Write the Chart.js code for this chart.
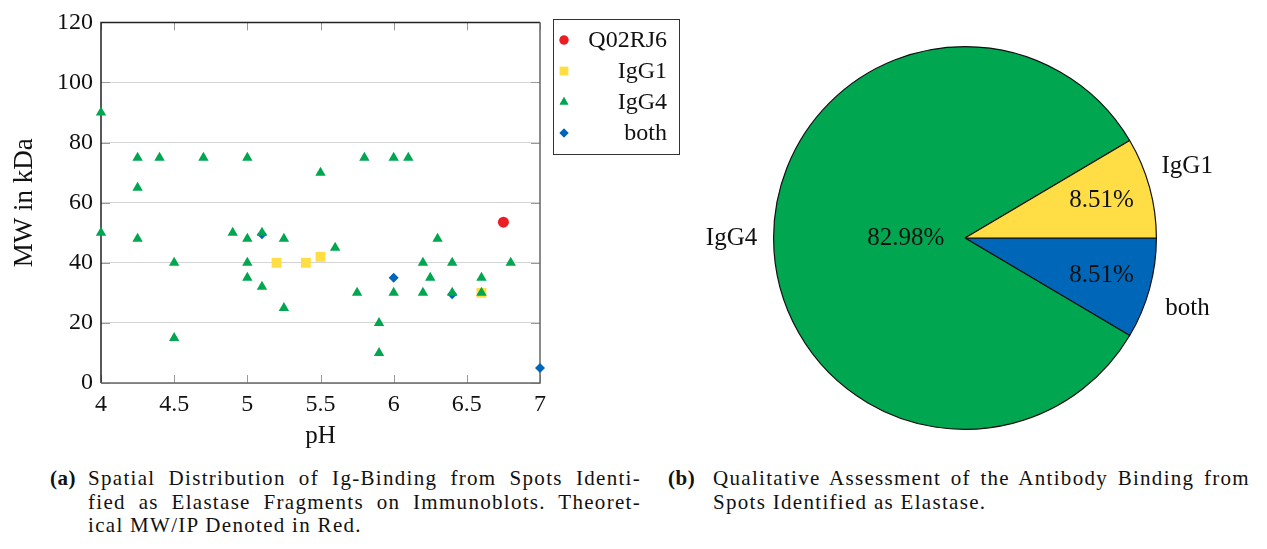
<!DOCTYPE html>
<html>
<head>
<meta charset="utf-8">
<script src="https://cdn.jsdelivr.net/npm/chart.js@4/dist/chart.umd.min.js"></script>
<style>
  body { margin: 0; background: #fff; width: 1267px; height: 549px; position: relative; overflow: hidden; font-family: "Liberation Serif", serif; color: #111; }
  #scatterBox { position: absolute; left: 0; top: 0; width: 690px; height: 460px; }
  #pieBox { position: absolute; left: 700px; top: 0; width: 530px; height: 460px; }
  .cap { position: absolute; font-size: 21px; line-height: 23.5px; letter-spacing: 1.3px; }
  .cap b { position: absolute; left: 0; top: 0; letter-spacing: 0.5px; }
  .ln { position: absolute; white-space: nowrap; }
  .just { text-align: justify; text-align-last: justify; white-space: normal; }
</style>
</head>
<body>
<div id="scatterBox"><canvas id="scatterCanvas" width="690" height="460"></canvas></div>
<div id="pieBox"><canvas id="pieCanvas" width="530" height="460"></canvas></div>

<div class="cap" style="left:50px; top:467px;">
  <b>(a)</b>
  <div class="ln just" style="left:38px; top:0; width:553px;">Spatial Distribution of Ig-Binding from Spots Identi-</div>
  <div class="ln just" style="left:38px; top:23.5px; width:553px;">fied as Elastase Fragments on Immunoblots. Theoret-</div>
  <div class="ln" style="left:38px; top:47px;">ical MW/IP Denoted in Red.</div>
</div>
<div class="cap" style="left:668px; top:467px;">
  <b>(b)</b>
  <div class="ln just" style="left:45px; top:0; width:537px;">Qualitative Assessment of the Antibody Binding from</div>
  <div class="ln" style="left:45px; top:23.5px;">Spots Identified as Elastase.</div>
</div>

<script>
// scatter data (pH, MW in kDa)
const q02PH = [6.75];
const q02MW = [53.5];
const igg1PH = [5.2, 5.4, 5.5, 6.6];
const igg1MW = [40, 40, 42, 30];
const igg4PH = [4, 4, 4.25, 4.25, 4.25, 4.4, 4.5, 4.5, 4.7, 4.9, 5, 5, 5, 5, 5.1, 5.1, 5.25, 5.25,
  5.5, 5.6, 5.75, 5.8, 5.9, 5.9, 6, 6, 6.1, 6.2, 6.2, 6.25, 6.3, 6.4, 6.4, 6.6, 6.6, 6.8];
const igg4MW = [90, 50, 75, 65, 48, 75, 40, 15, 75, 50, 75, 48, 40, 35, 50, 32, 48, 25,
  70, 45, 30, 75, 20, 10, 75, 30, 75, 40, 30, 35, 48, 40, 30, 35, 30, 40];
const bothPH = [5.1, 6, 6.4, 7];
const bothMW = [49.5, 35, 29.5, 5];

const xTicks = [4, 4.5, 5, 5.5, 6, 6.5, 7];
const yTicks = [0, 20, 40, 60, 80, 100, 120];

// pie data
const pieLabels = ["both", "IgG4", "IgG1"];
const pieValues = [8.51, 82.98, 8.51];

const GREEN = "#00a650";
const YELLOW = "#ffdd44";
const BLUE = "#0066b8";
const RED = "#ec1c24";

Chart.defaults.font.family = "'Liberation Serif', serif";
Chart.defaults.color = "#111";

const toPts = (xs, ys) => xs.map((x, i) => ({ x: x, y: ys[i] }));

const legendItems = [
  { label: "Q02RJ6", style: "circle", color: RED, r: 4.5 },
  { label: "IgG1", style: "rect", color: YELLOW, r: 6 },
  { label: "IgG4", style: "triangle", color: GREEN, r: 5 },
  { label: "both", style: "rectRot", color: BLUE, r: 4.5 },
];

// frame, inward ticks and the boxed legend
const framePlugin = {
  id: "frame",
  beforeDatasetsDraw(chart) {
    const { ctx, chartArea: a, scales } = chart;
    ctx.save();
    ctx.lineWidth = 1;
    ctx.strokeStyle = "#999";
    xTicks.forEach((v) => {
      const px = Math.round(scales.x.getPixelForValue(v)) + 0.5;
      ctx.beginPath();
      ctx.moveTo(px, a.bottom); ctx.lineTo(px, a.bottom - 8);
      ctx.moveTo(px, a.top); ctx.lineTo(px, a.top + 8);
      ctx.stroke();
    });
    yTicks.forEach((v) => {
      const py = Math.round(scales.y.getPixelForValue(v)) + 0.5;
      ctx.beginPath();
      ctx.moveTo(a.left, py); ctx.lineTo(a.left + 9, py);
      ctx.moveTo(a.right, py); ctx.lineTo(a.right - 9, py);
      ctx.stroke();
    });
    ctx.lineWidth = 1.5;
    ctx.strokeStyle = "#222";
    ctx.beginPath();
    ctx.moveTo(a.left, a.bottom); ctx.lineTo(a.left, a.top); ctx.lineTo(a.right, a.top);
    ctx.stroke();
    ctx.strokeStyle = "#666";
    ctx.beginPath();
    ctx.moveTo(a.left, a.bottom); ctx.lineTo(a.right, a.bottom); ctx.lineTo(a.right, a.top);
    ctx.stroke();
    ctx.restore();
  },
  afterDraw(chart) {
    const ctx = chart.ctx;
    ctx.save();
    ctx.strokeStyle = "#333";
    ctx.lineWidth = 1;
    ctx.strokeRect(553.5, 19.5, 126, 135);
    ctx.font = "24px 'Liberation Serif', serif";
    ctx.textAlign = "right";
    ctx.textBaseline = "middle";
    const rows = [40, 71, 102, 133];
    legendItems.forEach((it, i) => {
      ctx.fillStyle = it.color;
      Chart.helpers.drawPoint(ctx, { pointStyle: it.style, radius: it.r, rotation: 0, borderWidth: 0 }, 564, rows[i]);
      ctx.fill();
      ctx.fillStyle = "#111";
      ctx.fillText(it.label, 667, rows[i] + 1);
    });
    ctx.restore();
  },
};

new Chart(document.getElementById("scatterCanvas"), {
  type: "scatter",
  data: {
    datasets: [
      { label: "Q02RJ6", data: toPts(q02PH, q02MW), pointStyle: "circle", radius: 5.5, backgroundColor: RED, borderWidth: 0, order: 3, clip: false },
      { label: "IgG1", data: toPts(igg1PH, igg1MW), pointStyle: "rect", radius: 7, backgroundColor: YELLOW, borderWidth: 0, order: 2, clip: false },
      { label: "IgG4", data: toPts(igg4PH, igg4MW), pointStyle: "triangle", radius: 6, backgroundColor: GREEN, borderWidth: 0, order: 0, clip: false },
      { label: "both", data: toPts(bothPH, bothMW), pointStyle: "rectRot", radius: 5, backgroundColor: BLUE, borderWidth: 0, order: 1, clip: false },
    ],
  },
  options: {
    responsive: false,
    animation: false,
    layout: { padding: { top: 19, right: 150, left: 0, bottom: 0 } },
    plugins: { legend: { display: false }, tooltip: { enabled: false } },
    scales: {
      x: {
        type: "linear",
        min: 4,
        max: 7,
        afterBuildTicks: (s) => { s.ticks = xTicks.map((v) => ({ value: v })); },
        afterFit: (s) => { s.height = 77; },
        grid: { display: false, drawTicks: false },
        border: { display: false },
        ticks: { padding: 7, font: { size: 24 }, color: "#111", callback: (v) => String(v) },
        title: { display: true, text: "pH", font: { size: 25 }, color: "#111", padding: { top: 0, bottom: 9 } },
      },
      y: {
        type: "linear",
        min: 0,
        max: 120,
        afterBuildTicks: (s) => { s.ticks = yTicks.map((v) => ({ value: v })); },
        afterFit: (s) => { s.width = 101; },
        grid: { color: "#d4d4d4", lineWidth: 1, drawTicks: false },
        border: { display: false },
        ticks: { padding: 8, font: { size: 24 }, color: "#111" },
        title: { display: true, text: "MW in kDa", font: { size: 27 }, color: "#111", padding: { top: 9, bottom: 0 } },
      },
    },
  },
  plugins: [framePlugin],
});

// pie labels: percentage inside, name outside
const innerFrac = [0.74, 0.31, 0.74];
const outerShift = [0.04, 0, -0.045];
const pieLabelPlugin = {
  id: "pieLabels",
  afterDatasetsDraw(chart) {
    const ctx = chart.ctx;
    const meta = chart.getDatasetMeta(0);
    ctx.save();
    ctx.font = "25px 'Liberation Serif', serif";
    ctx.fillStyle = "#111";
    ctx.textAlign = "center";
    ctx.textBaseline = "middle";
    meta.data.forEach((arc, i) => {
      const mid = (arc.startAngle + arc.endAngle) / 2;
      const r = arc.outerRadius;
      ctx.fillText(pieValues[i].toFixed(2) + "%", arc.x + Math.cos(mid) * r * innerFrac[i], arc.y + Math.sin(mid) * r * innerFrac[i]);
      const oa = mid + outerShift[i];
      ctx.fillText(pieLabels[i], arc.x + Math.cos(oa) * r * 1.22, arc.y + Math.sin(oa) * r * 1.22);
    });
    ctx.restore();
  },
};

new Chart(document.getElementById("pieCanvas"), {
  type: "pie",
  data: {
    labels: pieLabels,
    datasets: [
      {
        data: pieValues,
        backgroundColor: [BLUE, GREEN, YELLOW],
        borderColor: "#111",
        borderWidth: 1.2,
      },
    ],
  },
  options: {
    responsive: false,
    animation: false,
    rotation: 90,
    layout: { padding: { top: 46, bottom: 30, left: 0, right: 0 } },
    plugins: { legend: { display: false }, tooltip: { enabled: false } },
  },
  plugins: [pieLabelPlugin],
});
</script>
</body>
</html>
